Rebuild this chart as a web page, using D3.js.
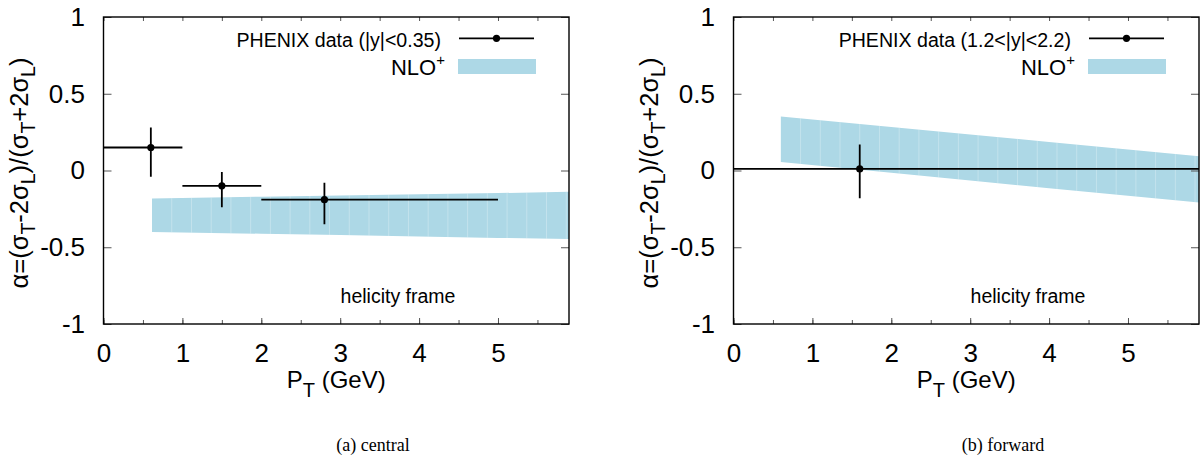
<!DOCTYPE html>
<html><head><meta charset="utf-8">
<script src="https://cdn.jsdelivr.net/npm/d3@7"></script>
<style>
body{margin:0;background:#fff;}
svg{display:block;}
text{font-family:"Liberation Sans",Arial,Helvetica,sans-serif;fill:#000;}
</style></head><body>
<svg id="c" width="1201" height="459"></svg>
<script>
// ---------- data ----------
const xTickLabels = [0, 1, 2, 3, 4, 5];
const xMinorTicks = [0, 0.5, 1, 1.5, 2, 2.5, 3, 3.5, 4, 4.5, 5, 5.5];
const yTickLabels = [-1, -0.5, 0, 0.5, 1];

// central (|y|<0.35)
const centralPt      = [0.6, 1.5, 2.8];
const centralPtLo    = [0, 1, 2];
const centralPtHi    = [1, 2, 5];
const centralAlpha   = [0.15, -0.10, -0.19];
const centralAlphaLo = [-0.04, -0.24, -0.35];
const centralAlphaHi = [0.28, -0.01, -0.08];
const centralBandPt  = [0.615, 2, 3, 4, 5, 5.9];
const centralBandLo  = [-0.400, -0.412, -0.421, -0.430, -0.439, -0.447];
const centralBandHi  = [-0.183, -0.171, -0.163, -0.155, -0.147, -0.139];

// forward (1.2<|y|<2.2)
const forwardPt      = [1.6];
const forwardPtLo    = [0];
const forwardPtHi    = [8];
const forwardAlpha   = [0.01];
const forwardAlphaLo = [-0.18];
const forwardAlphaHi = [0.17];
const forwardBandPt  = [0.6, 2, 3, 4, 5, 5.9];
const forwardBandLo  = [0.055, -0.015, -0.065, -0.115, -0.164, -0.209];
const forwardBandHi  = [0.352, 0.284, 0.235, 0.186, 0.137, 0.093];

const legendLabels = ["PHENIX data (|y|<0.35)", "PHENIX data (1.2<|y|<2.2)"];
const bandLabel = "NLO";
const frameLabel = "helicity frame";
const captions = ["(a) central", "(b) forward"];

// ---------- drawing ----------
const svg = d3.select("#c");
const defs = svg.append("defs");
const BAND = "#add8e6";

function zip(pt, lo, hi) {
  return pt.map((p, i) => ({pt: p, lo: lo[i], hi: hi[i]}));
}

function panel(idx, ox, pts, band, legendText, caption, capX) {
  const W = 465.5;
  const x = d3.scaleLinear().domain([0, 5.9]).range([ox, ox + W]);
  const y = d3.scaleLinear().domain([-1, 1]).range([324, 17]);
  const g = svg.append("g");

  const clipId = "clip" + idx;
  defs.append("clipPath").attr("id", clipId)
    .append("rect").attr("x", ox).attr("y", 17).attr("width", W).attr("height", 307);

  // band
  const area = d3.area().x(d => x(d.pt)).y0(d => y(d.lo)).y1(d => y(d.hi));
  const bandClip = "bandclip" + idx;
  defs.append("clipPath").attr("id", bandClip).append("path").attr("d", area(band));
  const plot = g.append("g").attr("clip-path", `url(#${clipId})`);
  plot.append("path").attr("d", area(band)).attr("fill", BAND);
  const seams = d3.range(band[0].pt + 0.25, 5.9, 0.25);
  plot.append("g").attr("clip-path", `url(#${bandClip})`)
    .selectAll("line").data(seams).join("line")
    .attr("x1", d => x(d)).attr("x2", d => x(d)).attr("y1", 17).attr("y2", 324)
    .attr("stroke", "#fff").attr("stroke-opacity", 0.35).attr("stroke-width", 0.8);

  // data error bars
  const eb = plot.selectAll("g.pt").data(pts).join("g").attr("class", "pt");
  eb.append("line").attr("x1", d => x(d.xlo)).attr("x2", d => x(d.xhi))
    .attr("y1", d => y(d.a)).attr("y2", d => y(d.a))
    .attr("stroke", "#000").attr("stroke-width", 1.8);
  eb.append("line").attr("x1", d => x(d.pt)).attr("x2", d => x(d.pt))
    .attr("y1", d => y(d.lo)).attr("y2", d => y(d.hi))
    .attr("stroke", "#000").attr("stroke-width", 1.8);
  eb.append("circle").attr("cx", d => x(d.pt)).attr("cy", d => y(d.a)).attr("r", 3.6).attr("fill", "#000");

  // axes (inward ticks)
  const tickCol = "#555";
  const xb = g.append("g").attr("transform", "translate(0,324)")
    .call(d3.axisBottom(x).tickValues(xTickLabels).tickFormat(d => String(d)).tickSizeInner(-6).tickSizeOuter(0).tickPadding(20));
  const xbm = g.append("g").attr("transform", "translate(0,324)")
    .call(d3.axisBottom(x).tickValues(xMinorTicks).tickFormat("").tickSizeInner(-4).tickSizeOuter(0));
  const xt = g.append("g").attr("transform", "translate(0,17)")
    .call(d3.axisTop(x).tickValues(xMinorTicks).tickFormat("").tickSizeInner(-4).tickSizeOuter(0));
  const yl = g.append("g").attr("transform", `translate(${ox},0)`)
    .call(d3.axisLeft(y).tickValues(yTickLabels).tickFormat(d => String(d)).tickSizeInner(-8).tickSizeOuter(0).tickPadding(18.5));
  const yr = g.append("g").attr("transform", `translate(${ox + W},0)`)
    .call(d3.axisRight(y).tickValues(yTickLabels).tickFormat("").tickSizeInner(-8).tickSizeOuter(0));
  [xb, xbm, xt, yl, yr].forEach(a => {
    a.select(".domain").remove();
    a.selectAll(".tick line").attr("stroke", tickCol).attr("stroke-width", 1);
    a.selectAll("text").attr("font-size", 26).attr("font-family", "Liberation Sans, Arial, sans-serif").attr("fill", "#000");
  });

  // frame
  g.append("rect").attr("x", ox).attr("y", 17).attr("width", W).attr("height", 307)
    .attr("fill", "none").attr("stroke", "#000").attr("stroke-width", 1.4);

  // legend
  const lx = ox + 337.5;
  g.append("text").attr("x", lx).attr("y", 47).attr("text-anchor", "end").attr("font-size", 19.6).text(legendText);
  g.append("line").attr("x1", ox + 355.5).attr("x2", ox + 430.5).attr("y1", 38.3).attr("y2", 38.3)
    .attr("stroke", "#000").attr("stroke-width", 1.8);
  g.append("circle").attr("cx", ox + 393).attr("cy", 38.3).attr("r", 3.6).attr("fill", "#000");
  const nlo = g.append("text").attr("x", lx + 4).attr("y", 75).attr("text-anchor", "end").attr("font-size", 22);
  nlo.append("tspan").text(bandLabel);
  nlo.append("tspan").attr("dy", -10).attr("font-size", 15).text("+");
  g.append("rect").attr("x", ox + 354.5).attr("y", 59).attr("width", 78).attr("height", 15).attr("fill", BAND);

  g.append("text").attr("x", ox + 294.5).attr("y", 303).attr("text-anchor", "middle").attr("font-size", 19.5).text(frameLabel);

  // x label
  const xlab = g.append("text").attr("x", ox + W / 2).attr("y", 388).attr("text-anchor", "middle").attr("font-size", 24);
  xlab.append("tspan").text("P");
  xlab.append("tspan").attr("dy", 9).attr("font-size", 20).text("T");
  xlab.append("tspan").attr("dy", -9).text(" (GeV)");

  // y label
  const ylab = g.append("text").attr("transform", `translate(${ox - 76},173) rotate(-90)`)
    .attr("text-anchor", "middle").attr("font-size", 25.5);
  const parts = [["α=(σ", 0], ["T", 1], ["-2σ", 0], ["L", 1], [")/(σ", 0], ["T", 1], ["+2σ", 0], ["L", 1], [")", 0]];
  let cur = 0;
  parts.forEach(([t, sub]) => {
    const target = sub ? 7 : 0;
    ylab.append("tspan").attr("dy", target - cur).attr("font-size", sub ? 19.5 : 25.5).text(t);
    cur = target;
  });

  // caption
  svg.append("text").attr("x", capX).attr("y", 451).attr("text-anchor", "middle")
    .style("font-family", "'Liberation Serif','Times New Roman',serif").attr("font-size", 18).text(caption);
}

const cPts = centralPt.map((p, i) => ({pt: p, xlo: centralPtLo[i], xhi: centralPtHi[i], a: centralAlpha[i], lo: centralAlphaLo[i], hi: centralAlphaHi[i]}));
const fPts = forwardPt.map((p, i) => ({pt: p, xlo: forwardPtLo[i], xhi: forwardPtHi[i], a: forwardAlpha[i], lo: forwardAlphaLo[i], hi: forwardAlphaHi[i]}));
const cBand = zip(centralBandPt, centralBandLo, centralBandHi);
const fBand = zip(forwardBandPt, forwardBandLo, forwardBandHi);

panel(0, 103.5, cPts, cBand, legendLabels[0], captions[0], 373);
panel(1, 733.5, fPts, fBand, legendLabels[1], captions[1], 1003);
</script>
</body></html>
